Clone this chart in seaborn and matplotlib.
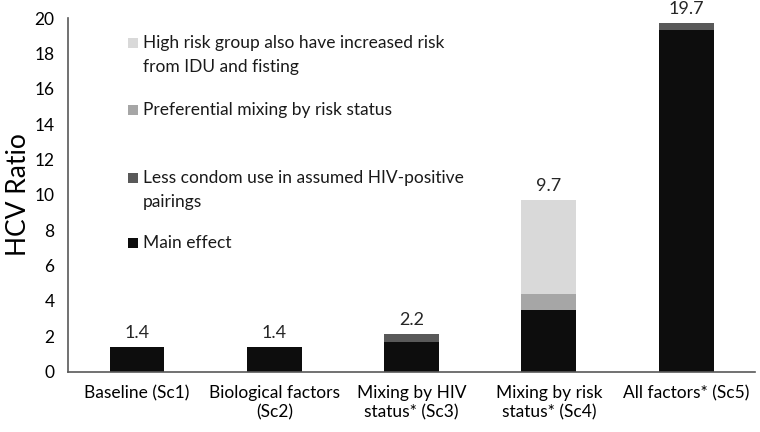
import matplotlib
matplotlib.use("Agg")
import matplotlib.pyplot as plt
import seaborn as sns
import numpy as np
import pandas as pd
from matplotlib.patches import Rectangle

categories = ["Baseline (Sc1)", "Biological factors\n(Sc2)", "Mixing by HIV\nstatus* (Sc3)",
              "Mixing by risk\nstatus* (Sc4)", "All factors* (Sc5)"]
main_effect = [1.4, 1.4, 1.69, 3.5, 19.35]
less_condom = [0.0, 0.0, 0.45, 0.0, 0.35]
pref_mixing = [0.0, 0.0, 0.0, 0.9, 0.0]
high_risk = [0.0, 0.0, 0.0, 5.3, 0.0]
totals_label = ["1.4", "1.4", "2.2", "9.7", "19.7"]

series_names = ["Main effect", "Less condom use in assumed HIV-positive\npairings",
                "Preferential mixing by risk status",
                "High risk group also have increased risk\nfrom IDU and fisting"]
series_vals = [main_effect, less_condom, pref_mixing, high_risk]
colors = ["#0d0d0d", "#595959", "#a6a6a6", "#d9d9d9"]

sns.set_theme(style="white")
plt.rcParams['font.family'] = ['Lato', 'DejaVu Sans']

W, H = 760, 432
fig, ax = plt.subplots(figsize=(7.6, 4.32), dpi=100)
fig.subplots_adjust(left=0.09, right=0.993, top=0.958, bottom=0.14)

cum = np.cumsum(np.array(series_vals), axis=0)
for i in range(len(series_vals) - 1, -1, -1):
    df = pd.DataFrame({"cat": categories, "val": cum[i]})
    sns.barplot(data=df, x="cat", y="val", color=colors[i], width=0.4,
                saturation=1, ax=ax, linewidth=0, order=categories)

for xi, (t, lab) in enumerate(zip(cum[-1], totals_label)):
    ax.text(xi, t + 0.35, lab, ha="center", va="bottom", fontsize=13, color="#262626")

ax.set_ylim(0, 20)
ax.set_yticks(np.arange(0, 21, 2))
ax.set_xlim(-0.5, 4.5)
ax.set_xlabel("")
ax.set_ylabel("HCV Ratio", fontsize=19, color="#000000")
ax.yaxis.set_label_coords(-0.054, 0.5)
ax.tick_params(axis="both", length=0, labelsize=12.5, colors="#000000")
ax.tick_params(axis="y", pad=10)
ax.tick_params(axis="x", pad=10)
for s in ["top", "right"]:
    ax.spines[s].set_visible(False)
for s in ["left", "bottom"]:
    ax.spines[s].set_color("#595959")
    ax.spines[s].set_linewidth(1.2)

# Legend (Excel-style, evenly spaced entries, reversed order), drawn in figure pixels
legend_rows = [43, 110, 178, 243]   # pixel centre of first text line of each entry
line_gap = 24
sq = 10
for row_y, idx in zip(legend_rows, [3, 2, 1, 0]):
    fig.patches.append(Rectangle(((128) / W, 1 - (row_y + sq / 2) / H), sq / W, sq / H,
                                 transform=fig.transFigure, facecolor=colors[idx],
                                 edgecolor="none"))
    for k, line in enumerate(series_names[idx].split("\n")):
        fig.text(143 / W, 1 - (row_y + k * line_gap) / H, line, ha="left", va="center",
                 fontsize=12.5, color="#1a1a1a")

fig.savefig("out.png", dpi=100)
